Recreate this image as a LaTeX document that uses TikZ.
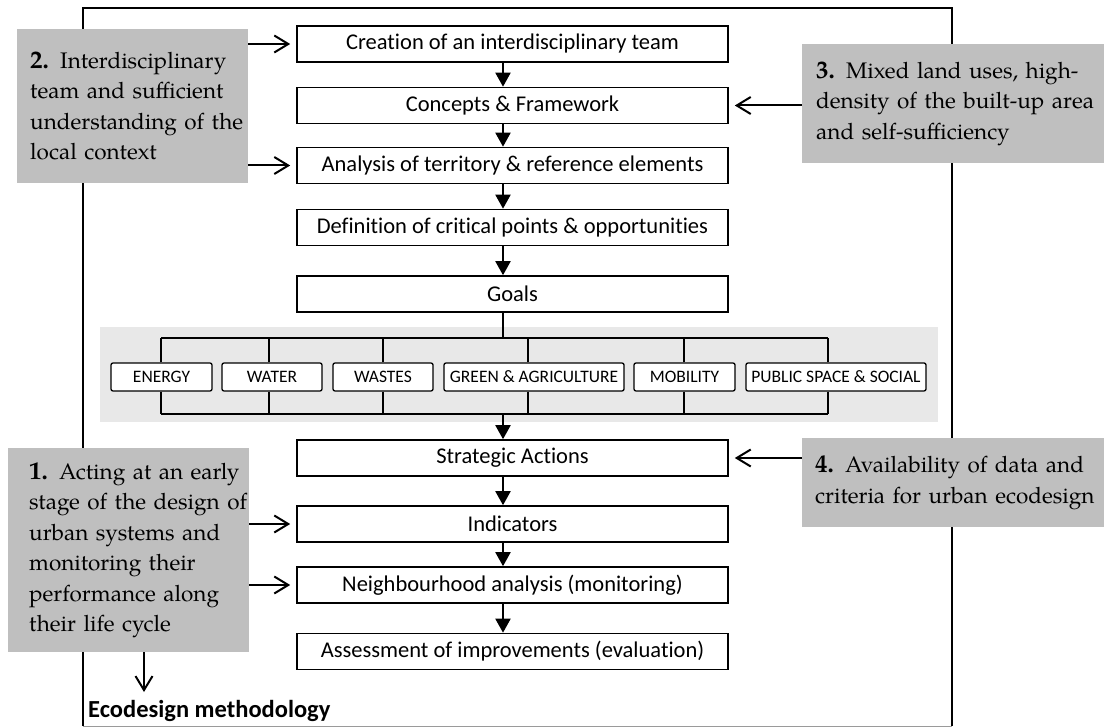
\documentclass[tikz,border=0pt]{standalone}
\usepackage{fontspec}
\setmainfont{Carlito}[Ligatures=NoCommon]
\newfontfamily\notefont{TeX Gyre Pagella}
\usetikzlibrary{arrows.meta}

\definecolor{notegray}{HTML}{BFBFBF}
\definecolor{bandgray}{HTML}{E8E8E8}
\definecolor{framegray}{HTML}{9A9A9A}

\newcommand{\noteline}[1]{\mbox{#1}}
\newcommand{\notenum}[1]{{\bfseries\fontsize{25}{30.5}\selectfont #1}}

\begin{document}
\begin{tikzpicture}[x=1pt,y=-1pt,
  stepbox/.style={draw=black, line width=1.6pt, fill=white, minimum width=431pt,
    minimum height=36pt, inner sep=0pt, font=\fontsize{22.5}{27}\selectfont},
  catbox/.style={draw=black, line width=1.3pt, fill=white, rounded corners=2pt,
    minimum height=28pt, inner sep=0pt, font=\fontsize{17.5}{21}\selectfont},
  note/.style={fill=notegray, anchor=north west, inner ysep=0pt, align=left,
    font=\notefont\fontsize{22.5}{30.5}\selectfont},
  flow/.style={line width=2pt, -{Triangle[width=15pt,length=14pt]}},
  hint/.style={line width=2pt, -{Straight Barb[length=14pt,width=17pt]}, shorten >=6pt},
  tree/.style={line width=1.3pt},
  title/.style={anchor=base west, inner sep=0pt, font=\bfseries\fontsize{24.5}{29}\selectfont}
]
\useasboundingbox (0,0) rectangle (1104,727);

% outer frame of the methodology
\draw[framegray, line width=1pt] (83,726) -- (952,726);
\draw[line width=2.2pt, line join=miter] (83,726) -- (83,8) -- (952,8) -- (952,726);

% shaded band holding the thematic areas
\fill[bandgray] (100,327) rectangle (938,422);

% main sequence of steps
\coordinate (spine) at (503,0);
\node[stepbox] (creation)   at (512.5,44)    {Creation of an interdisciplinary team};
\node[stepbox] (concepts)   at (512.5,105.5) {Concepts \& Framework};
\node[stepbox] (analysis)   at (512.5,165.5) {Analysis of territory \& reference elements};
\node[stepbox] (definition) at (512.5,227.5) {Definition of critical points \& opportunities};
\node[stepbox] (goals)      at (512.5,294)   {Goals};
\node[stepbox] (strategic)  at (512.5,458)   {Strategic Actions};
\node[stepbox] (indicators) at (512.5,524)   {Indicators};
\node[stepbox] (neigh)      at (512.5,585)   {Neighbourhood analysis (monitoring)};
\node[stepbox] (assess)     at (512.5,651.5) {Assessment of improvements (evaluation)};

\draw[flow] (creation.south -| spine)   -- (concepts.north -| spine);
\draw[flow] (concepts.south -| spine)   -- (analysis.north -| spine);
\draw[flow] (analysis.south -| spine)   -- (definition.north -| spine);
\draw[flow] (definition.south -| spine) -- (goals.north -| spine);
\draw[flow] (strategic.south -| spine)  -- (indicators.north -| spine);
\draw[flow] (indicators.south -| spine) -- (neigh.north -| spine);
\draw[flow] (neigh.south -| spine)      -- (assess.north -| spine);

% thematic areas
\coordinate (split) at (503,338);
\coordinate (join)  at (503,414);
\coordinate (tl) at (161,338);
\coordinate (tr) at (828,338);
\coordinate (bl) at (161,414);
\coordinate (br) at (828,414);

\node[catbox, minimum width=101pt] (energy)   at (161.5,377) {ENERGY};
\node[catbox, minimum width=100pt] (water)    at (272,377)   {WATER};
\node[catbox, minimum width=100pt] (wastes)   at (383,377)   {WASTES};
\node[catbox, minimum width=180pt] (green)    at (534,377)   {GREEN \& AGRICULTURE};
\node[catbox, minimum width=101pt] (mobility) at (684.5,377) {MOBILITY};
\node[catbox, minimum width=180pt] (public)   at (836,377)   {PUBLIC SPACE \& SOCIAL};

\draw[tree] (goals.south -| spine) -- (split);
\draw[tree] (tl) -- (tr);
\draw[tree] (bl) -- (br);
\foreach \n/\x in {energy/161, water/269, wastes/383, green/528, mobility/684, public/828}{
  \coordinate (\n-b) at (\x,0);
  \draw[tree] (\n.north -| \n-b) -- (tl -| \n-b);
  \draw[tree] (\n.south -| \n-b) -- (bl -| \n-b);
}
\draw[flow] (join) -- (strategic.north -| spine);

% key conditions
\node[note, minimum width=231pt, minimum height=154pt, inner xsep=13pt, text width=205pt] (n2) at (17,29)
  {\noteline{\notenum{2.} Interdisciplinary}\\\noteline{team and sufficient}\\\noteline{understanding of the}\\\noteline{local context}};
\node[note, minimum width=302pt, minimum height=119pt, inner xsep=14pt, text width=274pt] (n3) at (802,44)
  {\noteline{\notenum{3.} Mixed land uses, high-}\\\noteline{density of the built-up area}\\\noteline{and self-sufficiency}};
\node[note, minimum width=302pt, minimum height=89pt, inner xsep=13pt, text width=276pt] (n4) at (802,438)
  {\noteline{\notenum{4.} Availability of data and}\\\noteline{criteria for urban ecodesign}};
\node[note, minimum width=241pt, minimum height=204pt, inner xsep=21pt, text width=199pt] (n1) at (8,448)
  {\noteline{\notenum{1.} Acting at an early}\\\noteline{stage of the design of}\\\noteline{urban systems and}\\\noteline{monitoring their}\\\noteline{performance along}\\\noteline{their life cycle}};

\draw[hint] (n2.east |- creation) -- (creation.west);
\draw[hint] (n2.east |- analysis) -- (analysis.west);
\draw[hint] (n3.west |- concepts) -- (concepts.east);
\draw[hint] (n4.west |- strategic) -- (strategic.east);
\draw[hint] (n1.east |- indicators) -- (indicators.west);
\draw[hint] (n1.east |- neigh) -- (neigh.west);

% caption of the frame
\node[title] (method) at (88,717) {Ecodesign methodology};
\coordinate (drop) at (144,692);
\draw[hint, shorten >=0pt] (n1.south -| drop) -- (drop);
\end{tikzpicture}
\end{document}
